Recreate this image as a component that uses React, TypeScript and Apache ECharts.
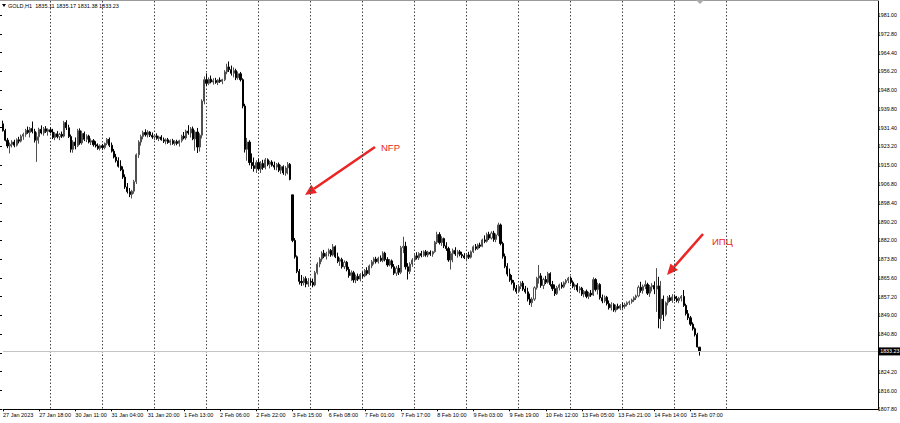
import React, { useEffect, useRef } from "react";
import * as echarts from "echarts";

// GOLD H1 bars, each row [open, close, low, high]
const jan27 = [
  [1933.2,1930.2,1929.8,1934.6],[1930.2,1926.0,1925.5,1931.0],[1926.0,1923.5,1922.5,1927.0],[1923.5,1924.2,1920.2,1925.0],
  [1924.2,1925.2,1922.8,1926.0],[1925.2,1923.8,1922.9,1926.2],[1923.8,1926.2,1923.2,1926.8],[1926.2,1925.6,1924.6,1927.5],
  [1925.6,1927.8,1925.0,1928.5],[1927.8,1928.6,1926.2,1929.3],[1928.6,1930.4,1927.5,1931.0],[1930.4,1929.4,1928.8,1932.0],
  [1929.4,1931.2,1927.2,1931.8],[1931.2,1929.8,1929.0,1934.2],[1929.8,1926.0,1925.0,1931.0],[1926.0,1927.5,1916.5,1929.5],
  [1927.5,1930.8,1924.5,1931.5],[1930.8,1929.2,1928.6,1932.5],[1929.2,1931.0,1928.0,1931.8],[1931.0,1929.9,1929.2,1932.2],
  [1929.9,1930.6,1928.0,1931.2],[1930.6,1929.6,1929.0,1931.6],
];
const jan30 = [
  [1929.6,1927.2,1926.5,1931.0],[1927.2,1928.8,1926.0,1929.5],[1928.8,1927.5,1926.8,1930.0],[1927.5,1928.6,1926.0,1929.2],
  [1928.6,1927.8,1927.0,1929.8],[1927.8,1933.8,1927.2,1934.5],[1933.8,1931.5,1930.5,1934.8],[1931.5,1927.6,1927.0,1932.8],
  [1927.6,1922.0,1920.6,1928.5],[1922.0,1925.2,1920.5,1926.0],[1925.2,1923.6,1922.0,1927.2],[1923.6,1930.2,1923.0,1931.0],
  [1930.2,1924.8,1924.0,1931.2],[1924.8,1929.0,1924.0,1930.2],[1929.0,1926.4,1925.6,1929.8],[1926.4,1927.8,1925.2,1928.6],
  [1927.8,1925.2,1924.6,1928.4],[1925.2,1925.8,1923.9,1926.8],[1925.8,1924.0,1923.2,1926.5],[1924.0,1923.5,1922.8,1925.6],
  [1923.5,1922.4,1921.8,1924.6],[1922.4,1923.6,1921.5,1924.2],[1923.6,1922.8,1921.8,1924.4],
];
const jan31 = [
  [1922.8,1924.6,1922.0,1925.0],[1924.6,1926.4,1923.8,1927.0],[1926.4,1923.8,1923.0,1927.2],[1923.8,1921.2,1920.6,1925.0],
  [1921.2,1918.6,1918.0,1922.2],[1918.6,1917.0,1916.2,1920.0],[1917.0,1914.6,1914.0,1918.5],[1914.6,1913.0,1912.4,1917.2],
  [1913.0,1909.8,1909.0,1914.5],[1909.8,1905.5,1904.6,1911.0],[1905.5,1903.4,1902.6,1907.2],[1903.4,1902.2,1901.0,1905.0],
  [1902.2,1903.6,1900.4,1904.2],[1903.6,1907.8,1902.5,1908.6],[1907.8,1919.6,1906.8,1920.2],[1919.6,1925.2,1918.2,1926.0],
  [1925.2,1927.6,1923.6,1928.4],[1927.6,1929.4,1926.4,1930.2],[1929.4,1928.4,1927.6,1930.8],[1928.4,1929.6,1927.2,1930.4],
  [1929.6,1928.2,1927.4,1930.0],[1928.2,1927.4,1926.6,1929.4],[1927.4,1927.9,1926.0,1928.6],
];
const feb1 = [
  [1927.9,1926.8,1926.2,1929.0],[1926.8,1927.4,1925.6,1928.0],[1927.4,1926.2,1925.8,1928.2],[1926.2,1925.6,1924.8,1927.2],
  [1925.6,1926.2,1924.2,1926.8],[1926.2,1925.0,1924.4,1927.0],[1925.0,1925.8,1923.8,1926.4],[1925.8,1924.6,1924.0,1926.6],
  [1924.6,1925.4,1923.6,1926.0],[1925.4,1924.6,1923.8,1926.2],[1924.6,1925.8,1923.2,1926.2],[1925.8,1927.8,1925.0,1928.4],
  [1927.8,1927.0,1926.4,1929.6],[1927.0,1930.0,1926.2,1930.6],[1930.0,1929.2,1928.4,1932.6],[1929.2,1931.0,1927.2,1931.8],
  [1931.0,1926.6,1926.0,1932.0],[1926.6,1929.6,1921.4,1930.4],[1929.6,1923.0,1920.4,1931.4],[1923.0,1928.2,1921.0,1929.0],
  [1928.2,1943.2,1926.8,1944.0],[1943.2,1952.6,1941.8,1954.0],[1952.6,1951.0,1949.8,1955.4],
];
const feb2 = [
  [1951.0,1952.8,1950.2,1953.6],[1952.8,1951.6,1951.0,1954.4],[1951.6,1952.2,1950.4,1953.2],[1952.2,1951.4,1950.8,1953.4],
  [1951.4,1952.4,1950.2,1952.8],[1952.4,1951.8,1951.2,1953.6],[1951.8,1952.6,1950.6,1953.0],[1952.6,1956.0,1952.0,1956.8],
  [1956.0,1958.2,1955.0,1959.6],[1958.2,1957.0,1956.0,1960.6],[1957.0,1955.4,1954.4,1958.8],[1955.4,1956.6,1953.6,1958.0],
  [1956.6,1953.4,1952.4,1957.4],[1953.4,1955.2,1952.6,1956.2],[1955.2,1952.6,1951.8,1956.0],[1952.6,1941.0,1940.0,1953.2],
  [1941.0,1922.0,1920.6,1942.0],[1922.0,1925.2,1917.0,1927.0],[1925.2,1916.2,1915.0,1926.0],[1916.2,1914.8,1913.4,1920.2],
  [1914.8,1913.6,1912.2,1918.4],[1913.6,1916.2,1911.6,1917.2],[1916.2,1913.4,1912.6,1918.0],
];
const feb3 = [
  [1913.4,1915.8,1911.6,1916.8],[1915.8,1914.0,1913.0,1917.4],[1914.0,1917.4,1913.2,1918.2],[1917.4,1915.4,1914.6,1918.0],
  [1915.4,1916.4,1913.6,1917.0],[1916.4,1915.0,1914.4,1917.2],[1915.0,1914.2,1913.0,1916.6],[1914.2,1915.4,1912.8,1916.0],
  [1915.4,1912.8,1912.0,1916.2],[1912.8,1914.4,1911.2,1915.2],[1914.4,1911.6,1910.8,1915.0],[1911.6,1913.8,1910.4,1914.6],
  [1913.8,1915.4,1911.0,1916.4],[1915.4,1908.8,1908.4,1916.0],[1902.0,1882.0,1881.2,1902.0],[1882.0,1874.8,1874.0,1883.0],
  [1874.8,1868.4,1867.6,1875.4],[1868.4,1864.0,1862.6,1869.4],[1864.0,1863.4,1862.0,1866.8],[1863.4,1865.2,1862.2,1866.0],
  [1865.2,1862.8,1861.4,1866.2],[1862.8,1864.0,1861.6,1865.4],[1864.0,1863.6,1862.4,1865.0],
];
const feb6 = [
  [1863.6,1862.4,1861.4,1865.2],[1862.4,1867.8,1861.8,1868.6],[1867.8,1871.6,1867.0,1872.4],[1871.6,1873.8,1870.2,1874.6],
  [1873.8,1876.4,1872.6,1877.2],[1876.4,1875.0,1874.2,1877.8],[1875.0,1876.2,1873.6,1877.0],[1876.2,1877.6,1875.0,1878.4],
  [1877.6,1875.6,1874.8,1878.2],[1875.6,1879.2,1875.0,1880.4],[1879.2,1874.8,1874.2,1879.8],[1874.8,1872.8,1872.0,1876.6],
  [1872.8,1873.6,1870.8,1874.4],[1873.6,1870.4,1869.6,1874.4],[1870.4,1872.4,1869.4,1873.2],[1872.4,1869.2,1868.4,1873.0],
  [1869.2,1866.6,1865.6,1870.4],[1866.6,1867.8,1864.2,1868.8],[1867.8,1864.6,1863.4,1868.6],[1864.6,1866.2,1863.2,1867.0],
  [1866.2,1865.0,1864.2,1867.4],[1865.0,1867.0,1864.0,1867.6],[1867.0,1866.4,1865.6,1868.2],
];
const feb7 = [
  [1866.4,1868.8,1865.8,1869.4],[1868.8,1867.4,1866.6,1870.2],[1867.4,1870.8,1866.8,1871.4],[1870.8,1872.6,1869.8,1873.4],
  [1872.6,1873.8,1871.4,1874.6],[1873.8,1872.6,1871.8,1874.8],[1872.6,1874.2,1871.8,1874.8],[1874.2,1873.2,1872.6,1875.4],
  [1873.2,1876.4,1872.4,1877.2],[1876.4,1873.6,1872.8,1877.0],[1873.6,1871.2,1870.4,1874.6],[1871.2,1873.0,1870.6,1873.8],
  [1873.0,1870.4,1869.6,1873.6],[1870.4,1867.6,1866.8,1871.6],[1867.6,1869.8,1866.4,1870.8],[1869.8,1868.0,1866.8,1871.2],
  [1868.0,1878.8,1867.2,1879.6],[1878.8,1879.4,1876.4,1883.6],[1879.4,1870.4,1869.2,1881.4],[1870.4,1868.4,1864.8,1872.0],
  [1868.4,1871.6,1867.2,1872.4],[1871.6,1873.4,1870.4,1874.2],[1873.4,1875.2,1872.6,1876.0],
];
const feb8 = [
  [1875.2,1874.4,1873.6,1876.8],[1874.4,1876.2,1873.4,1876.8],[1876.2,1875.4,1874.6,1877.4],[1875.4,1877.0,1874.8,1877.6],
  [1877.0,1875.6,1874.8,1877.8],[1875.6,1876.8,1874.6,1877.4],[1876.8,1876.0,1875.2,1877.6],[1876.0,1877.0,1874.8,1877.4],
  [1877.0,1881.2,1876.6,1881.8],[1881.2,1884.6,1880.4,1885.8],[1884.6,1881.0,1880.2,1885.6],[1881.0,1882.8,1879.6,1883.8],
  [1882.8,1879.6,1878.6,1883.2],[1879.6,1878.4,1877.4,1881.2],[1878.4,1873.4,1872.6,1879.2],[1873.4,1876.2,1869.2,1877.2],
  [1876.2,1877.6,1872.4,1878.4],[1877.6,1876.0,1875.2,1879.0],[1876.0,1877.0,1874.4,1877.8],[1877.0,1875.8,1875.0,1877.8],
  [1875.8,1875.2,1874.2,1877.0],[1875.2,1874.4,1873.8,1876.4],[1874.4,1875.6,1873.2,1876.0],
];
const feb9 = [
  [1875.6,1874.6,1873.8,1877.0],[1874.6,1877.0,1874.0,1877.6],[1877.0,1879.2,1876.4,1879.8],[1879.2,1878.4,1877.6,1880.4],
  [1878.4,1880.0,1877.8,1880.6],[1880.0,1879.4,1878.6,1881.0],[1879.4,1882.2,1879.0,1882.8],[1882.2,1881.6,1880.8,1884.2],
  [1881.6,1884.6,1881.0,1885.4],[1884.6,1883.0,1882.2,1885.8],[1883.0,1885.2,1882.4,1886.0],[1885.2,1882.4,1881.4,1886.2],
  [1882.4,1884.4,1881.2,1885.0],[1884.4,1888.8,1883.8,1889.8],[1888.8,1880.6,1879.8,1889.4],[1880.6,1875.0,1874.0,1881.4],
  [1875.0,1870.6,1869.8,1876.2],[1870.6,1867.2,1866.2,1872.0],[1867.2,1864.6,1863.8,1869.6],[1864.6,1863.4,1862.6,1866.8],
  [1863.4,1861.0,1860.0,1864.6],[1861.0,1859.6,1858.6,1862.4],[1859.6,1861.8,1859.0,1862.6],
];
const feb10 = [
  [1861.8,1863.2,1860.6,1864.0],[1863.2,1860.6,1859.8,1864.2],[1860.6,1859.4,1858.6,1862.0],[1859.4,1856.2,1855.2,1861.2],
  [1856.2,1854.6,1853.6,1858.6],[1854.6,1856.2,1852.8,1857.0],[1856.2,1861.2,1855.4,1861.8],[1861.2,1865.4,1860.4,1866.0],
  [1865.4,1866.4,1863.0,1871.2],[1866.4,1862.2,1861.2,1867.6],[1862.2,1864.8,1860.6,1865.6],[1864.8,1863.6,1862.8,1866.4],
  [1863.6,1867.4,1863.0,1868.2],[1867.4,1862.6,1861.8,1868.0],[1862.6,1860.8,1859.8,1864.2],[1860.8,1858.6,1857.6,1862.6],
  [1858.6,1861.2,1858.0,1862.0],[1861.2,1862.4,1860.0,1863.0],[1862.4,1861.6,1860.8,1863.6],[1861.6,1863.4,1861.0,1864.0],
  [1863.4,1864.4,1862.6,1865.0],[1864.4,1865.4,1863.2,1866.0],[1865.4,1863.6,1862.8,1866.2],
];
const feb13 = [
  [1863.6,1861.8,1861.0,1864.4],[1861.8,1862.4,1860.2,1863.0],[1862.4,1860.2,1859.4,1863.2],[1860.2,1861.0,1858.8,1861.8],
  [1861.0,1858.4,1857.6,1861.6],[1858.4,1859.6,1857.0,1860.2],[1859.6,1857.4,1856.6,1860.4],[1857.4,1858.8,1856.2,1859.4],
  [1858.8,1858.0,1857.2,1860.2],[1858.0,1864.8,1857.6,1865.8],[1864.8,1860.4,1859.6,1865.4],[1860.4,1862.6,1858.2,1863.4],
  [1862.6,1856.8,1856.0,1863.2],[1856.8,1855.4,1854.4,1858.2],[1855.4,1857.0,1854.6,1857.8],[1857.0,1854.2,1853.4,1857.6],
  [1854.2,1852.4,1851.6,1855.6],[1852.4,1853.8,1851.2,1854.8],[1853.8,1851.4,1850.6,1854.4],[1851.4,1853.0,1850.4,1853.8],
  [1853.0,1852.2,1851.6,1854.2],[1852.2,1853.4,1851.4,1854.0],[1853.4,1853.0,1852.0,1854.6],
];
const feb14 = [
  [1853.0,1853.8,1852.0,1854.6],[1853.8,1854.6,1853.0,1855.2],[1854.6,1855.0,1853.6,1855.6],[1855.0,1855.8,1854.2,1856.4],
  [1855.8,1856.8,1855.0,1857.4],[1856.8,1857.6,1855.8,1858.2],[1857.6,1861.4,1857.0,1862.2],[1861.4,1860.0,1859.0,1863.8],
  [1860.0,1861.8,1858.6,1862.6],[1861.8,1862.6,1860.6,1864.4],[1862.6,1858.8,1858.0,1863.4],[1858.8,1861.6,1857.2,1862.4],
  [1861.6,1862.2,1859.6,1863.2],[1862.2,1860.6,1858.4,1864.0],[1860.6,1862.0,1850.6,1869.8],[1862.0,1847.6,1843.4,1866.0],
  [1847.6,1856.2,1843.0,1864.2],[1856.2,1849.4,1846.6,1857.8],[1849.4,1854.6,1848.6,1855.2],[1854.6,1856.8,1853.4,1857.6],
  [1856.8,1855.6,1855.0,1858.0],[1855.6,1857.2,1854.6,1858.4],[1857.2,1856.4,1855.4,1858.2],
];
const feb15 = [
  [1856.4,1855.6,1854.8,1857.6],[1855.6,1856.6,1854.4,1857.2],[1856.6,1857.4,1855.2,1858.0],[1857.4,1853.4,1852.8,1860.2],
  [1853.4,1849.8,1849.0,1854.2],[1849.8,1848.0,1847.0,1851.4],[1848.0,1845.2,1844.4,1848.8],[1845.2,1843.2,1842.4,1846.0],
  [1843.2,1840.6,1839.8,1843.8],[1840.6,1835.2,1835.0,1841.4],[1835.11,1833.23,1831.38,1835.17],
];

const days = [jan27, jan30, jan31, feb1, feb2, feb3, feb6, feb7, feb8, feb9, feb10, feb13, feb14, feb15];
const barsPerDay = 23;

const timeLabels = [
  "27 Jan 2023", "27 Jan 18:00", "30 Jan 11:00", "31 Jan 04:00", "31 Jan 20:00", "1 Feb 13:00",
  "2 Feb 06:00", "2 Feb 22:00", "3 Feb 15:00", "6 Feb 08:00", "7 Feb 01:00", "7 Feb 17:00",
  "8 Feb 10:00", "9 Feb 03:00", "9 Feb 19:00", "10 Feb 12:00", "13 Feb 05:00", "13 Feb 21:00",
  "14 Feb 14:00", "15 Feb 07:00",
];
const labelStep = 16;

// right price scale labels, bottom to top (the slot under the bid box is blank)
const priceLabels = [
  "1807.80", "1816.00", "1824.20", "", "1840.80", "1849.00", "1857.20", "1865.60", "1873.80",
  "1882.00", "1890.20", "1898.40", "1906.80", "1915.00", "1923.20", "1931.40", "1939.80",
  "1948.00", "1956.20", "1964.40", "1972.80", "1981.00",
];
const priceMin = 1807.8;
const priceMax = 1987.16;

const header = "GOLD,H1  1835.11 1835.17 1831.38 1833.23";
const bid = 1833.23;
const totalSlots = 388;

const FONT = "Liberation Sans, Arial, sans-serif";

function arrow(sx: number, sy: number, tx: number, ty: number, color: string) {
  const dx = tx - sx, dy = ty - sy;
  const len = Math.sqrt(dx * dx + dy * dy);
  const ux = dx / len, uy = dy / len;
  const nx = uy, ny = -ux;
  const hl = 11, hw = 5;
  const bx = tx - hl * ux, by = ty - hl * uy;
  return [
    { type: "line", shape: { x1: sx, y1: sy, x2: bx, y2: by }, style: { stroke: color, lineWidth: 2.6 }, silent: true },
    {
      type: "polygon",
      shape: { points: [[tx, ty], [bx + hw * nx, by + hw * ny], [bx - hw * nx, by - hw * ny]] },
      style: { fill: color },
      silent: true,
    },
  ];
}

export default function App() {
  const ref = useRef<HTMLDivElement>(null);

  useEffect(() => {
    if (!ref.current) return;
    const chart = echarts.init(ref.current, null, { renderer: "svg" });

    const candles = days.flat();
    const dayStarts: number[] = [];
    let acc = 0;
    days.forEach((d, i) => {
      if (i > 0) dayStarts.push(acc);
      acc += d.length;
    });
    // next trading day (16 Feb) separator in the shifted empty area
    dayStarts.push(dayStarts[dayStarts.length - 1] + barsPerDay);

    const cats = Array.from({ length: totalSlots }, (_, i) => String(i));
    const isLabel = (i: number) => i % labelStep === 0 && i / labelStep < timeLabels.length;

    const red = "#ec2424";

    chart.setOption({
      animation: false,
      backgroundColor: "#ffffff",
      grid: [
        { left: -0.7, right: 21.8, top: 1, bottom: 13.7 },
        { left: -0.7, right: 21.8, top: 15, bottom: 13.7 },
      ],
      xAxis: [
        {
          type: "category",
          gridIndex: 0,
          data: cats,
          boundaryGap: false,
          axisLine: { show: true, lineStyle: { color: "#000", width: 1 } },
          axisTick: { show: true, interval: (i: number) => isLabel(i), length: 2, lineStyle: { color: "#000" } },
          axisLabel: {
            show: true,
            interval: (i: number) => isLabel(i),
            formatter: (_v: string, i: number) => timeLabels[i / labelStep] ?? "",
            align: "left",
            margin: 3,
            fontSize: 5.5,
            fontFamily: FONT,
            color: "#000",
          },
          splitLine: {
            show: true,
            interval: (i: number) => dayStarts.includes(i + 1),
            lineStyle: { color: "#444", width: 1, type: [1.5, 2] },
          },
        },
        { type: "value", gridIndex: 1, show: false, min: 0, max: 1 },
      ],
      yAxis: [
        {
          type: "value",
          gridIndex: 0,
          position: "right",
          min: priceMin,
          max: priceMax,
          axisLine: { show: true, onZero: false, lineStyle: { color: "#000", width: 1 } },
          axisTick: { show: false },
          axisLabel: { show: false },
          splitLine: { show: false },
        },
        {
          type: "category",
          gridIndex: 1,
          position: "right",
          data: priceLabels,
          boundaryGap: false,
          axisLine: { show: false },
          axisTick: { show: true, length: 2, lineStyle: { color: "#000" } },
          axisLabel: { show: true, margin: 2.6, fontSize: 5.3, fontFamily: FONT, color: "#000", interval: 0 },
          splitLine: { show: false },
        },
      ],
      series: [
        {
          type: "candlestick",
          xAxisIndex: 0,
          yAxisIndex: 0,
          data: candles,
          barWidth: 1.6,
          itemStyle: {
            color: "#ffffff",
            color0: "#000000",
            borderColor: "#505050",
            borderColor0: "#000000",
            borderWidth: 1,
          },
          silent: true,
          markLine: {
            silent: true,
            symbol: "none",
            lineStyle: { color: "#c4c4c4", width: 1, type: "solid" },
            label: {
              show: true,
              position: "end",
              distance: 0,
              formatter: bid.toFixed(2),
              color: "#fff",
              backgroundColor: "#000",
              padding: [2, 2, 1, 2],
              fontSize: 5.3,
              fontFamily: FONT,
            },
            data: [{ yAxis: bid }],
          },
        },
      ],
      graphic: [
        { type: "line", shape: { x1: 0, y1: 0.5, x2: 878, y2: 0.5 }, style: { stroke: "#9a9a9a", lineWidth: 1 }, silent: true },
        { type: "polygon", shape: { points: [[696, 0], [704, 0], [700, 4]] }, style: { fill: "#a8a8a8" }, silent: true },
        { type: "polygon", shape: { points: [[2, 4], [6, 4], [4, 7]] }, style: { fill: "#000" }, silent: true },
        {
          type: "text",
          left: 8,
          top: 3,
          style: { text: header, fontSize: 5.5, fontFamily: FONT, fill: "#000" },
          silent: true,
        },
        ...arrow(375, 147, 305, 195, red),
        {
          type: "text",
          x: 381,
          y: 147,
          style: { text: "NFP", fontSize: 9.5, fontFamily: FONT, fill: red, textVerticalAlign: "middle" },
          silent: true,
        },
        ...arrow(703, 234, 667, 275, red),
        {
          type: "text",
          x: 712,
          y: 241,
          style: { text: "ИПЦ", fontSize: 9.5, fontFamily: FONT, fill: red, textVerticalAlign: "middle" },
          silent: true,
        },
      ],
    });

    return () => chart.dispose();
  }, []);

  return (
    <div
      ref={ref}
      style={{ position: "fixed", left: 0, top: 0, width: 900, height: 423, background: "#fff" }}
    />
  );
}
